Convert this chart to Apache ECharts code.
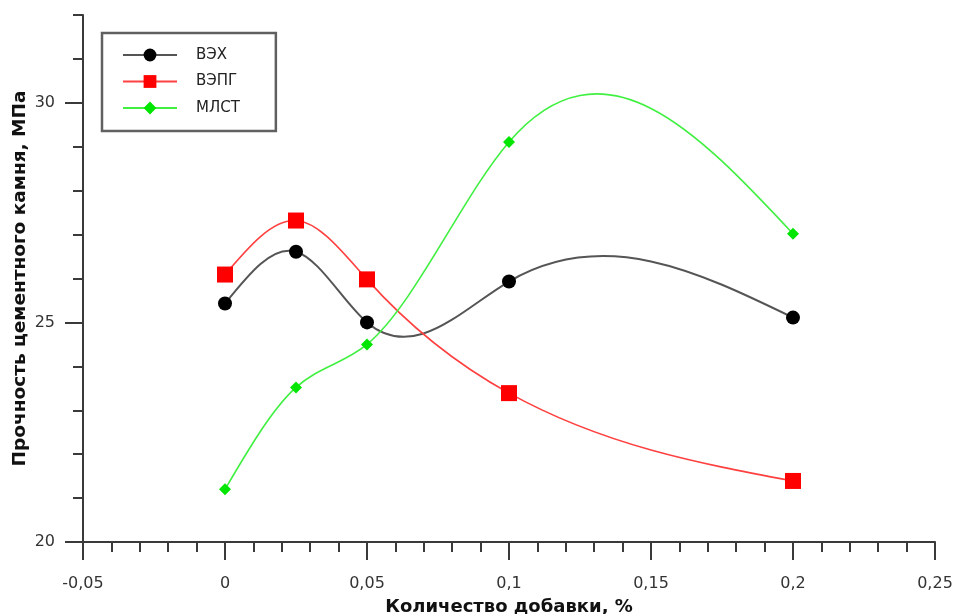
<!DOCTYPE html>
<html><head><meta charset="utf-8">
<script src="https://cdn.jsdelivr.net/npm/echarts@6/dist/echarts.min.js"></script>
<style>html,body{margin:0;padding:0;background:#fff}#c{width:953px;height:614px}</style>
</head><body><div id="c"></div>
<script>
var xVals = [0, 0.025, 0.05, 0.1, 0.2];
var vehValues = [25.43, 26.61, 25.0, 25.93, 25.11];
var vepgValues = [26.09, 27.32, 25.98, 23.39, 21.39];
var mlstValues = [21.2, 23.52, 24.5, 29.11, 27.02];
var seriesNames = ['ВЭХ', 'ВЭПГ', 'МЛСТ'];
var yMajorTicks = [20, 25, 30];
var xTitle = 'Количество добавки, %';
var yTitle = 'Прочность цементного камня, МПа';

var lineColors = ['#555555', '#ff4040', '#40f040'];
var markColors = ['#000000', '#ff0000', '#00e600'];

function pairs(v){ return xVals.map(function(x,i){ return [x, v[i]]; }); }

// natural cubic spline slopes (data space) -> used as Bezier control handles
function splineSlopes(xs, ys){
  var n = xs.length, h = [], i;
  for(i=0;i<n-1;i++) h.push(xs[i+1]-xs[i]);
  var M = new Array(n).fill(0);
  if(n > 2){
    var m = n-2, a=[], b=[], c=[], d=[];
    for(i=1;i<n-1;i++){
      a.push(h[i-1]); b.push(2*(h[i-1]+h[i])); c.push(h[i]);
      d.push(6*((ys[i+1]-ys[i])/h[i] - (ys[i]-ys[i-1])/h[i-1]));
    }
    for(i=1;i<m;i++){ var w=a[i]/b[i-1]; b[i]-=w*c[i-1]; d[i]-=w*d[i-1]; }
    var sol = new Array(m);
    sol[m-1] = d[m-1]/b[m-1];
    for(i=m-2;i>=0;i--) sol[i] = (d[i]-c[i]*sol[i+1])/b[i];
    for(i=0;i<m;i++) M[i+1]=sol[i];
  }
  var s = [];
  for(i=0;i<n-1;i++) s.push((ys[i+1]-ys[i])/h[i] - h[i]*(2*M[i]+M[i+1])/6);
  s.push((ys[n-1]-ys[n-2])/h[n-2] + h[n-2]*(M[n-2]+2*M[n-1])/6);
  return s;
}

function splineSeries(values, color, width){
  var slopes = splineSlopes(xVals, values);
  return {
    type:'custom', coordinateSystem:'cartesian2d', silent:true, z:1,
    data: pairs(values),
    renderItem: function(params, api){
      var i = params.dataIndex;
      if(i >= xVals.length-1) return null;
      var h = xVals[i+1]-xVals[i];
      var p0 = api.coord([xVals[i], values[i]]);
      var p1 = api.coord([xVals[i]+h/3, values[i]+slopes[i]*h/3]);
      var p2 = api.coord([xVals[i+1]-h/3, values[i+1]-slopes[i+1]*h/3]);
      var p3 = api.coord([xVals[i+1], values[i+1]]);
      return {type:'bezierCurve',
        shape:{x1:p0[0],y1:p0[1],cpx1:p1[0],cpy1:p1[1],cpx2:p2[0],cpy2:p2[1],x2:p3[0],y2:p3[1]},
        style:{stroke:color, lineWidth:width, fill:null}};
    }
  };
}

var font = 'DejaVu Sans';
var tickColor = '#3a3a3a';
var chart = echarts.init(document.getElementById('c'));
chart.setOption({
  animation:false,
  backgroundColor:'#fff',
  grid:{left:83, right:18, top:15, bottom:72, containLabel:false, outerBoundsMode:'none'},
  legend:{
    orient:'vertical', left:102, top:33,
    padding:[14,36,15,20], itemGap:10.5, itemWidth:54, itemHeight:16,
    borderColor:'#606060', borderWidth:2.5,
    textStyle:{fontFamily:font, fontSize:15, color:'#222', padding:[0,0,0,14], lineHeight:16},
    data:seriesNames.map(function(n,i){
      return {name:n, lineStyle:{color:lineColors[i], width:2, opacity:1}};
    })
  },
  xAxis:{
    type:'value', min:-0.05, max:0.25, interval:0.05,
    name:xTitle, nameLocation:'middle', nameGap:56,
    nameTextStyle:{fontFamily:font, fontWeight:'bold', fontSize:18, color:'#111'},
    axisLine:{onZero:false, lineStyle:{color:tickColor, width:2}},
    axisTick:{show:true, length:18, lineStyle:{color:tickColor, width:2}},
    minorTick:{show:true, splitNumber:5, length:10, lineStyle:{color:tickColor, width:2}},
    axisLabel:{fontFamily:font, fontSize:16, color:'#333', margin:34,
      formatter:function(v){ return String(+v.toFixed(4)).replace('.', ','); }},
    splitLine:{show:false}
  },
  yAxis:[{
    type:'value', min:20, max:32, interval:1,
    name:yTitle, nameLocation:'middle', nameGap:53,
    nameTextStyle:{fontFamily:font, fontWeight:'bold', fontSize:18.5, color:'#111'},
    axisLine:{show:true, onZero:false, lineStyle:{color:tickColor, width:2}},
    axisTick:{show:true, length:10, lineStyle:{color:tickColor, width:2}},
    axisLabel:{show:false},
    splitLine:{show:false}
  },{
    type:'value', min:20, max:32, interval:1, position:'left',
    axisLine:{show:false, onZero:false},
    axisTick:{show:true, length:18, customValues:yMajorTicks, lineStyle:{color:tickColor, width:2}},
    axisLabel:{show:true, customValues:yMajorTicks, fontFamily:font, fontSize:16, color:'#333', margin:28},
    splitLine:{show:false}
  }],
  series:[
    splineSeries(vehValues, lineColors[0], 2),
    splineSeries(vepgValues, lineColors[1], 1.6),
    splineSeries(mlstValues, lineColors[2], 1.6),
  {
    name:seriesNames[0], type:'line', data:pairs(vehValues), z:3,
    symbol:'circle', symbolSize:14,
    itemStyle:{color:markColors[0]}, lineStyle:{color:lineColors[0], width:2, opacity:0}
  },{
    name:seriesNames[1], type:'line', data:pairs(vepgValues), z:3,
    symbol:'rect', symbolSize:16,
    itemStyle:{color:markColors[1]}, lineStyle:{color:lineColors[1], width:2, opacity:0}
  },{
    name:seriesNames[2], type:'line', data:pairs(mlstValues), z:3,
    symbol:'diamond', symbolSize:12,
    itemStyle:{color:markColors[2]}, lineStyle:{color:lineColors[2], width:2, opacity:0}
  }]
});
</script></body></html>
